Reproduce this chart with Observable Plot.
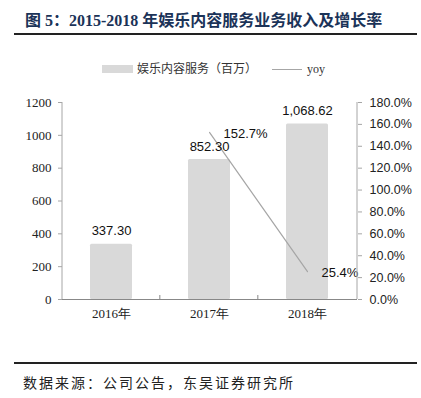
<!DOCTYPE html>
<html>
<head>
<meta charset="utf-8">
<script src="https://cdn.jsdelivr.net/npm/d3@7"></script>
<script src="https://cdn.jsdelivr.net/npm/@observablehq/plot@0.6"></script>
<style>
  html, body { margin: 0; padding: 0; background: #fff; }
  #wrap { position: relative; width: 421px; height: 398px; overflow: hidden; background: #fff; }
  #title { position: absolute; left: 25px; top: 7px; font: bold 16px "Liberation Serif", "Noto Sans CJK SC", serif; color: #1b3358; white-space: nowrap; }
  #titleLine { position: absolute; left: 14px; top: 33px; width: 403px; height: 2px; background: #222; }
  #legend { position: absolute; left: 0; top: 61px; width: 421px; height: 16px; font: 12px "Liberation Serif", "Noto Sans CJK SC", serif; color: #333; }
  .sw { position: absolute; }
  #chart { position: absolute; left: 0; top: 80px; }
  #footLine { position: absolute; left: 14px; top: 362px; width: 403px; height: 1.5px; background: #222; }
  #foot { position: absolute; left: 23px; top: 372px; font: 14px "Noto Sans CJK SC", sans-serif; letter-spacing: 2px; color: #222; white-space: nowrap; }
</style>
</head>
<body>
<div id="wrap">
  <div id="title">图 5：2015-2018 年娱乐内容服务业务收入及增长率</div>
  <div id="titleLine"></div>
  <div id="legend">
    <div class="sw" style="left:102px;top:4px;width:31px;height:8px;background:#d9d9d9"></div>
    <div class="sw" style="left:137px;top:0px;line-height:16px;white-space:nowrap">娱乐内容服务（百万）</div>
    <div class="sw" style="left:272px;top:8px;width:30px;height:1px;background:#a6a6a6"></div>
    <div class="sw" style="left:307px;top:0px;line-height:16px">yoy</div>
  </div>
  <div id="chart"></div>
  <div id="footLine"></div>
  <div id="foot">数据来源：公司公告，东吴证券研究所</div>
</div>
<script>
const years = ["2016年", "2017年", "2018年"];
const revenue = [337.30, 852.30, 1068.62];
const revenueLabels = ["337.30", "852.30", "1,068.62"];
const yoyYears = ["2017年", "2018年"];
const yoy = [152.7, 25.4];
const yoyLabels = ["152.7%", "25.4%"];
const leftTicks = [0, 200, 400, 600, 800, 1000, 1200];
const rightTicks = [0, 20, 40, 60, 80, 100, 120, 140, 160, 180];

const leftMax = 1200, rightMax = 180;
const toLeft = v => v * leftMax / rightMax;

const bars = years.map((y, i) => ({year: y, value: revenue[i], label: revenueLabels[i]}));
const growth = yoyYears.map((y, i) => ({year: y, value: toLeft(yoy[i]), label: yoyLabels[i]}));

const W = 421, H = 260, mL = 62, mR = 64, mT = 22, mB = 41;
const sans = "'Liberation Sans', Arial, sans-serif";
const serif = "'Liberation Serif', 'Times New Roman', serif";

const plot = Plot.plot({
  width: W, height: H,
  marginLeft: mL, marginRight: mR, marginTop: mT, marginBottom: mB,
  style: {background: "transparent", overflow: "visible"},
  x: {domain: years, paddingInner: 0.57, paddingOuter: 0.285, axis: null},
  y: {domain: [0, leftMax], axis: null},
  marks: [
    Plot.barY(bars, {x: "year", y: "value", fill: "#d9d9d9", rx: 1.5}),
    Plot.axisY(leftTicks, {anchor: "left", label: null, tickSize: 4, tickPadding: 7, stroke: "#a6a6a6",
      fill: "#222", fontSize: 13, fontFamily: serif, tickFormat: d => String(d)}),
    Plot.axisY(rightTicks.map(toLeft), {anchor: "right", label: null, tickSize: 4, tickPadding: 8, stroke: "#a6a6a6",
      fill: "#222", fontSize: 12.5, fontFamily: sans, tickFormat: d => (d * rightMax / leftMax).toFixed(1) + "%"}),
    Plot.axisX(years, {anchor: "bottom", label: null, tickSize: 0, tickPadding: 9, fill: "#222", fontSize: 13, fontFamily: serif}),
    Plot.ruleY([0], {stroke: "#888", strokeWidth: 1}),
    Plot.line(growth, {x: "year", y: "value", stroke: "#a6a6a6", strokeWidth: 1.2}),
    Plot.text(bars, {x: "year", y: "value", text: "label", dy: -13, fontSize: 13, fontFamily: sans, fill: "#111"}),
    Plot.text(growth, {x: "year", y: "value", text: "label", dx: 14, dy: 1, textAnchor: "start", fontSize: 13, fontFamily: sans, fill: "#111"})
  ]
});

// vertical axis lines and category boundary ticks, positioned from the plot's own scales
const xs = plot.scale("x");
const ys = plot.scale("y");
const svg = d3.select(plot);
const y0 = ys.apply(0), yTop = ys.apply(leftMax);
const [xr0, xr1] = xs.range;
svg.append("line").attr("x1", xr0).attr("x2", xr0).attr("y1", yTop).attr("y2", y0).attr("stroke", "#a6a6a6");
svg.append("line").attr("x1", xr1).attr("x2", xr1).attr("y1", yTop).attr("y2", y0).attr("stroke", "#a6a6a6");
const step = (xr1 - xr0) / years.length;
years.slice(1).forEach(y => {
  const bx = xs.apply(y) - (step - xs.bandwidth) / 2;
  svg.append("line").attr("x1", bx).attr("x2", bx).attr("y1", y0).attr("y2", y0 - 4).attr("stroke", "#888");
});

document.getElementById("chart").appendChild(plot);
</script>
</body>
</html>
